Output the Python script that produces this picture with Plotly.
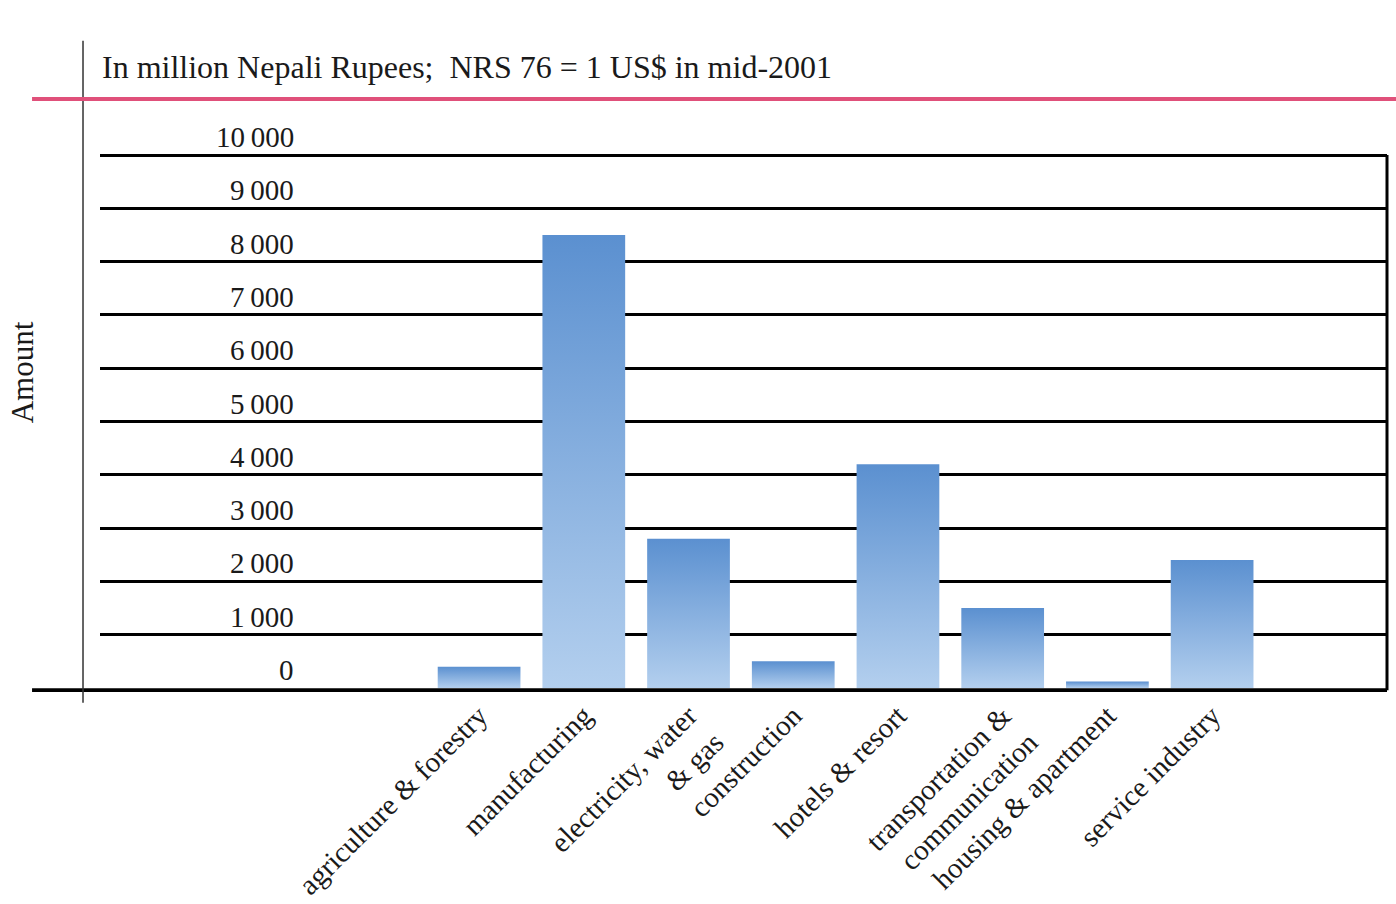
import plotly.graph_objects as go

categories = ["agriculture & forestry", "manufacturing", "electricity, water<br>& gas",
              "construction", "hotels & resort", "transportation &<br>communication",
              "housing & apartment", "service industry"]
values = [400, 8500, 2800, 500, 4200, 1500, 120, 2400]
y_ticks = [0, 1000, 2000, 3000, 4000, 5000, 6000, 7000, 8000, 9000, 10000]
y_tick_labels = ["0", "1\u2009000", "2\u2009000", "3\u2009000", "4\u2009000", "5\u2009000",
                 "6\u2009000", "7\u2009000", "8\u2009000", "9\u2009000", "10\u2009000"]
subtitle = "In million Nepali Rupees;  NRS 76 = 1 US$ in mid-2001"
y_title = "Amount"

FONT = "Liberation Serif"
bar_w = 0.79

fig = go.Figure()
for i, (cat, v) in enumerate(zip(categories, values)):
    x0, x1 = i - bar_w / 2, i + bar_w / 2
    fig.add_trace(go.Scatter(
        x=[x0, x0, x1, x1, x0], y=[0, v, v, 0, 0],
        mode="lines", fill="toself", line=dict(width=0),
        fillgradient=dict(type="vertical",
                          colorscale=[[0, "#b3cfee"], [1, "#5b90d0"]]),
        name=cat.replace("<br>", " "), hoverinfo="name+y", showlegend=False))

for v, t in zip(y_ticks, y_tick_labels):
    fig.add_annotation(x=0.1523, xref="paper", y=v, yref="y", yshift=18,
                       text=t, showarrow=False, xanchor="right", yanchor="middle",
                       font=dict(family=FONT, size=29, color="#1a1a1a"))

fig.add_annotation(x=0, xref="paper", y=1.0557, yref="paper", text=subtitle,
                   showarrow=False, xanchor="left", yanchor="middle",
                   font=dict(family=FONT, size=32, color="#1a1a1a"))
fig.add_annotation(x=-0.0606, xref="paper", y=0.54, yref="paper", text=y_title,
                   textangle=-90, showarrow=False, xanchor="center", yanchor="middle",
                   font=dict(family=FONT, size=31, color="#1a1a1a"))

# frame lines
fig.add_shape(type="line", xref="paper", yref="y", x0=-0.0528, x1=1, y0=-40, y1=-40,
              line=dict(color="black", width=4))
fig.add_shape(type="line", xref="paper", yref="y", x0=1, x1=1, y0=-40, y1=10000,
              line=dict(color="black", width=3))
fig.add_shape(type="line", xref="paper", yref="paper", x0=-0.0132, x1=-0.0132, y0=-0.018, y1=1.1,
              line=dict(color="#333", width=1.5))
fig.add_shape(type="line", xref="paper", yref="paper", x0=-0.0528, x1=1.01, y0=1.0017, y1=1.0017,
              line=dict(color="#e0507a", width=4))

fig.update_layout(
    width=1396, height=904,
    margin=dict(l=100, r=9, t=100, b=212, autoexpand=False),
    plot_bgcolor="white", paper_bgcolor="white",
    font=dict(family=FONT, size=26, color="#1a1a1a"),
    xaxis=dict(range=[-3.62, 8.67], tickmode="array", tickvals=list(range(len(categories))),
               ticktext=categories, tickangle=-45, showgrid=False, zeroline=False,
               showline=False, ticks="", automargin=False,
               tickfont=dict(family=FONT, size=29, color="#1a1a1a")),
    yaxis=dict(range=[-75, 11032], tickmode="array", tickvals=y_ticks[1:],
               showticklabels=False, showgrid=True, gridcolor="black", gridwidth=2.7,
               zeroline=False, showline=False, ticks="", automargin=False),
)

fig.write_html("out.html")
